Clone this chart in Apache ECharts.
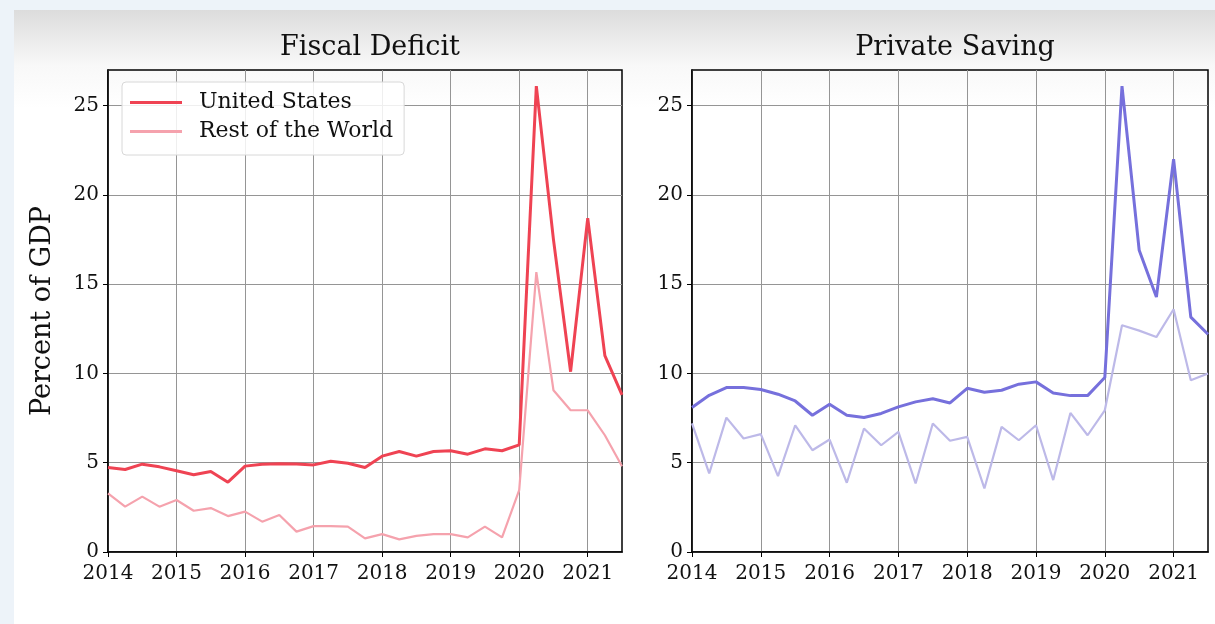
<!DOCTYPE html>
<html>
<head>
<meta charset="utf-8">
<script src="https://cdn.jsdelivr.net/npm/echarts@6/dist/echarts.min.js"></script>
<style>
html,body{margin:0;padding:0;background:#edf3f9;}
#c{width:1215px;height:624px;}
</style>
</head>
<body>
<div id="c"></div>
<script>
// Quarterly time points (year fractions)
const quarters = [2014.0,2014.25,2014.5,2014.75,2015.0,2015.25,2015.5,2015.75,2016.0,2016.25,2016.5,2016.75,
  2017.0,2017.25,2017.5,2017.75,2018.0,2018.25,2018.5,2018.75,2019.0,2019.25,2019.5,2019.75,
  2020.0,2020.25,2020.5,2020.75,2021.0,2021.25,2021.5];
const yearTicks = [2014,2015,2016,2017,2018,2019,2020,2021];
const valueTicks = [0,5,10,15,20,25];
const panelTitles = ['Fiscal Deficit','Private Saving'];
const seriesNames = ['United States','Rest of the World'];

const usDeficit = [4.73,4.62,4.92,4.77, 4.55,4.33,4.51,3.91, 4.81,4.92,4.95,4.93, 4.88,5.08,4.97,4.73,
  5.37,5.63,5.37,5.63, 5.67,5.48,5.78,5.67, 6.0,26.1,17.5,10.1, 18.7,11.0,8.8];
const rowDeficit = [3.28,2.54,3.1,2.54, 2.91,2.31,2.46,2.01, 2.26,1.7,2.07,1.14, 1.45,1.45,1.42,0.76,
  1.0,0.71,0.9,1.0, 1.0,0.82,1.42,0.82, 3.47,15.68,9.06,7.94, 7.94,6.54,4.8];
const usSaving = [8.09,8.78,9.21,9.21, 9.1,8.84,8.46,7.66, 8.28,7.66,7.53,7.76, 8.13,8.41,8.58,8.35,
  9.17,8.95,9.06,9.4, 9.53,8.91,8.76,8.76, 9.77,26.1,16.9,14.28, 22.0,13.16,12.2];
const rowSaving = [7.2,4.4,7.53,6.36, 6.6,4.25,7.1,5.7, 6.3,3.88,6.92,5.98, 6.73,3.84,7.2,6.23,
  6.45,3.56,7.01,6.26, 7.1,4.03,7.79,6.54, 7.94,12.7,12.4,12.04, 13.6,9.62,10.0];

const pair = (ys) => quarters.map((q, i) => [q, ys[i]]);
const FONT = 'DejaVu Serif';

function xAxis(gi) {
  return {
    type: 'value', gridIndex: gi, min: 2014, max: 2021.5, interval: 1,
    axisLine: {show: true, onZero: false, lineStyle: {color: '#000', width: 1.5}},
    axisTick: {show: true, inside: false, length: 5, customValues: yearTicks, lineStyle: {color: '#000', width: 1}},
    axisLabel: {show: true, customValues: yearTicks, margin: 12, color: '#111', fontFamily: FONT, fontSize: 20,
      formatter: v => String(v)},
    splitLine: {show: true, lineStyle: {color: '#959595', width: 1}}
  };
}
function yAxis(gi, withName) {
  const a = {
    type: 'value', gridIndex: gi, min: 0, max: 27, interval: 5,
    axisLine: {show: true, lineStyle: {color: '#000', width: 1.5}},
    axisTick: {show: true, inside: false, length: 5, customValues: valueTicks, lineStyle: {color: '#000', width: 1}},
    axisLabel: {show: true, customValues: valueTicks, margin: 9, color: '#111', fontFamily: FONT, fontSize: 20},
    splitLine: {show: true, lineStyle: {color: '#959595', width: 1}}
  };
  if (withName) {
    Object.assign(a, {name: 'Percent of GDP', nameLocation: 'middle', nameGap: 52,
      nameTextStyle: {fontFamily: FONT, fontSize: 27, color: '#111'}});
  }
  return a;
}
function line(name, data, color, width, xi) {
  return {type: 'line', name, data, xAxisIndex: xi, yAxisIndex: xi, symbol: 'none',
    lineStyle: {color, width}, itemStyle: {color}, animation: false, z: width > 2.5 ? 3 : 2};
}

const chart = echarts.init(document.getElementById('c'), null, {renderer: 'canvas'});
chart.setOption({
  animation: false,
  backgroundColor: 'transparent',
  graphic: [{
    type: 'rect', left: 14, top: 10, shape: {width: 1201, height: 614}, z: -10, silent: true,
    style: {fill: new echarts.graphic.LinearGradient(0, 0, 0, 1, [
      {offset: 0, color: '#dcdcdc'}, {offset: 0.09, color: '#f8f8f8'}, {offset: 0.16, color: '#ffffff'}, {offset: 1, color: '#ffffff'}])}
  }],
  title: [
    {text: panelTitles[0], left: 365, top: 29, textAlign: 'center',
      textStyle: {fontFamily: FONT, fontSize: 27, fontWeight: 'normal', color: '#111'}},
    {text: panelTitles[1], left: 950, top: 29, textAlign: 'center',
      textStyle: {fontFamily: FONT, fontSize: 27, fontWeight: 'normal', color: '#111'}}
  ],
  grid: [
    {left: 108, top: 70, width: 514, height: 482, show: true, borderColor: '#000', borderWidth: 1.5, backgroundColor: 'transparent'},
    {left: 692, top: 70, width: 516, height: 482, show: true, borderColor: '#000', borderWidth: 1.5, backgroundColor: 'transparent'}
  ],
  xAxis: [xAxis(0), xAxis(1)],
  yAxis: [yAxis(0, true), yAxis(1, false)],
  legend: {
    data: seriesNames, orient: 'vertical', left: 122, top: 82,
    icon: 'rect', itemWidth: 52, itemHeight: 3,
    padding: [9, 11, 12, 8], itemGap: 6,
    backgroundColor: 'rgba(255,255,255,0.85)', borderColor: '#d8d8d8', borderWidth: 1, borderRadius: 4,
    textStyle: {fontFamily: FONT, fontSize: 22, color: '#111', padding: [0, 0, 0, 12], lineHeight: 23},
    selectedMode: false
  },
  series: [
    line(seriesNames[1], pair(rowDeficit), '#f5a2ad', 2.2, 0),
    line(seriesNames[0], pair(usDeficit), '#ef4353', 3, 0),
    line('Rest of the World (saving)', pair(rowSaving), '#bdb9e8', 2.2, 1),
    line('United States (saving)', pair(usSaving), '#7670dc', 3, 1)
  ]
});
</script>
</body>
</html>
